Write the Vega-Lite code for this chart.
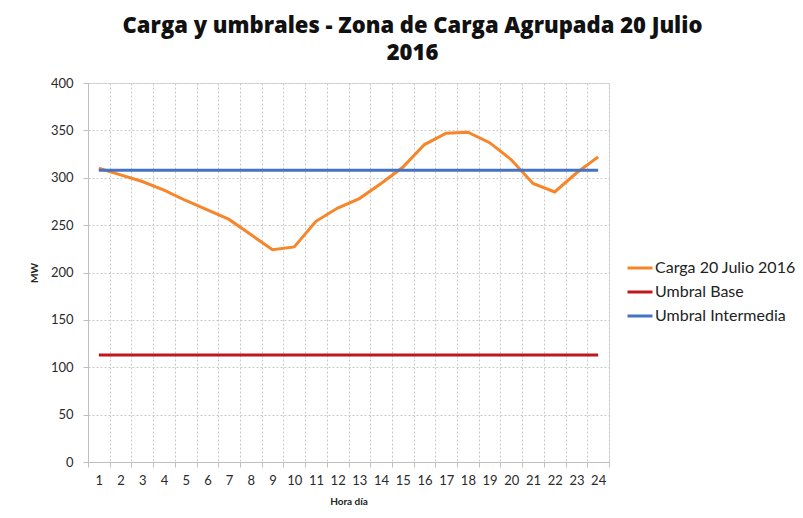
{
  "$schema": "https://vega.github.io/schema/vega-lite/v6.json",
  "autosize": {"type": "none"},
  "width": 521,
  "height": 379,
  "padding": {"left": 88, "top": 83, "right": 194, "bottom": 56},
  "background": "white",
  "title": {
    "text": ["Carga y umbrales - Zona de Carga Agrupada 20 Julio", "2016"],
    "font": "Open Sans", "fontSize": 22, "fontWeight": 800, "color": "#111",
    "anchor": "middle", "frame": "group", "dx": 64, "offset": 12, "lineHeight": 27
  },
  "data": {"values": [
    {"hora": 1, "serie": "Carga 20 Julio 2016", "MW": 310},
    {"hora": 2, "serie": "Carga 20 Julio 2016", "MW": 303},
    {"hora": 3, "serie": "Carga 20 Julio 2016", "MW": 296},
    {"hora": 4, "serie": "Carga 20 Julio 2016", "MW": 287},
    {"hora": 5, "serie": "Carga 20 Julio 2016", "MW": 276},
    {"hora": 6, "serie": "Carga 20 Julio 2016", "MW": 266},
    {"hora": 7, "serie": "Carga 20 Julio 2016", "MW": 256},
    {"hora": 8, "serie": "Carga 20 Julio 2016", "MW": 240},
    {"hora": 9, "serie": "Carga 20 Julio 2016", "MW": 224},
    {"hora": 10, "serie": "Carga 20 Julio 2016", "MW": 227},
    {"hora": 11, "serie": "Carga 20 Julio 2016", "MW": 254},
    {"hora": 12, "serie": "Carga 20 Julio 2016", "MW": 268},
    {"hora": 13, "serie": "Carga 20 Julio 2016", "MW": 278},
    {"hora": 14, "serie": "Carga 20 Julio 2016", "MW": 294},
    {"hora": 15, "serie": "Carga 20 Julio 2016", "MW": 311},
    {"hora": 16, "serie": "Carga 20 Julio 2016", "MW": 335},
    {"hora": 17, "serie": "Carga 20 Julio 2016", "MW": 347},
    {"hora": 18, "serie": "Carga 20 Julio 2016", "MW": 348},
    {"hora": 19, "serie": "Carga 20 Julio 2016", "MW": 337},
    {"hora": 20, "serie": "Carga 20 Julio 2016", "MW": 319},
    {"hora": 21, "serie": "Carga 20 Julio 2016", "MW": 294},
    {"hora": 22, "serie": "Carga 20 Julio 2016", "MW": 285},
    {"hora": 23, "serie": "Carga 20 Julio 2016", "MW": 305},
    {"hora": 24, "serie": "Carga 20 Julio 2016", "MW": 322},
    {"hora": 1, "serie": "Umbral Base", "MW": 113},
    {"hora": 2, "serie": "Umbral Base", "MW": 113},
    {"hora": 3, "serie": "Umbral Base", "MW": 113},
    {"hora": 4, "serie": "Umbral Base", "MW": 113},
    {"hora": 5, "serie": "Umbral Base", "MW": 113},
    {"hora": 6, "serie": "Umbral Base", "MW": 113},
    {"hora": 7, "serie": "Umbral Base", "MW": 113},
    {"hora": 8, "serie": "Umbral Base", "MW": 113},
    {"hora": 9, "serie": "Umbral Base", "MW": 113},
    {"hora": 10, "serie": "Umbral Base", "MW": 113},
    {"hora": 11, "serie": "Umbral Base", "MW": 113},
    {"hora": 12, "serie": "Umbral Base", "MW": 113},
    {"hora": 13, "serie": "Umbral Base", "MW": 113},
    {"hora": 14, "serie": "Umbral Base", "MW": 113},
    {"hora": 15, "serie": "Umbral Base", "MW": 113},
    {"hora": 16, "serie": "Umbral Base", "MW": 113},
    {"hora": 17, "serie": "Umbral Base", "MW": 113},
    {"hora": 18, "serie": "Umbral Base", "MW": 113},
    {"hora": 19, "serie": "Umbral Base", "MW": 113},
    {"hora": 20, "serie": "Umbral Base", "MW": 113},
    {"hora": 21, "serie": "Umbral Base", "MW": 113},
    {"hora": 22, "serie": "Umbral Base", "MW": 113},
    {"hora": 23, "serie": "Umbral Base", "MW": 113},
    {"hora": 24, "serie": "Umbral Base", "MW": 113},
    {"hora": 1, "serie": "Umbral Intermedia", "MW": 308},
    {"hora": 2, "serie": "Umbral Intermedia", "MW": 308},
    {"hora": 3, "serie": "Umbral Intermedia", "MW": 308},
    {"hora": 4, "serie": "Umbral Intermedia", "MW": 308},
    {"hora": 5, "serie": "Umbral Intermedia", "MW": 308},
    {"hora": 6, "serie": "Umbral Intermedia", "MW": 308},
    {"hora": 7, "serie": "Umbral Intermedia", "MW": 308},
    {"hora": 8, "serie": "Umbral Intermedia", "MW": 308},
    {"hora": 9, "serie": "Umbral Intermedia", "MW": 308},
    {"hora": 10, "serie": "Umbral Intermedia", "MW": 308},
    {"hora": 11, "serie": "Umbral Intermedia", "MW": 308},
    {"hora": 12, "serie": "Umbral Intermedia", "MW": 308},
    {"hora": 13, "serie": "Umbral Intermedia", "MW": 308},
    {"hora": 14, "serie": "Umbral Intermedia", "MW": 308},
    {"hora": 15, "serie": "Umbral Intermedia", "MW": 308},
    {"hora": 16, "serie": "Umbral Intermedia", "MW": 308},
    {"hora": 17, "serie": "Umbral Intermedia", "MW": 308},
    {"hora": 18, "serie": "Umbral Intermedia", "MW": 308},
    {"hora": 19, "serie": "Umbral Intermedia", "MW": 308},
    {"hora": 20, "serie": "Umbral Intermedia", "MW": 308},
    {"hora": 21, "serie": "Umbral Intermedia", "MW": 308},
    {"hora": 22, "serie": "Umbral Intermedia", "MW": 308},
    {"hora": 23, "serie": "Umbral Intermedia", "MW": 308},
    {"hora": 24, "serie": "Umbral Intermedia", "MW": 308}
  ]},
  "mark": {"type": "line", "strokeWidth": 3},
  "encoding": {
    "x": {
      "field": "hora", "type": "ordinal",
      "scale": {"type": "band", "paddingInner": 0, "paddingOuter": 0},
      "axis": {
        "title": "Hora día", "titleFont": "Lato", "titleFontSize": 10, "titleFontWeight": "bold",
        "titleColor": "#222", "titlePadding": 9,
        "labelAngle": 0, "labelFont": "Lato", "labelFontSize": 13, "labelColor": "#2a2a2a",
        "labelPadding": 7, "tickSize": 5, "tickColor": "#bfbfbf",
        "grid": true, "tickBand": "extent", "gridDash": [2, 2], "gridColor": "#c8c8c8",
        "domainColor": "#bfbfbf"
      }
    },
    "y": {
      "field": "MW", "type": "quantitative",
      "scale": {"domain": [0, 400], "nice": false},
      "axis": {
        "values": [0, 50, 100, 150, 200, 250, 300, 350, 400],
        "title": "MW", "titleFont": "Lato", "titleFontSize": 10, "titleFontWeight": "bold",
        "titleColor": "#222", "titlePadding": 11,
        "labelFont": "Lato", "labelFontSize": 13, "labelColor": "#2a2a2a", "labelPadding": 10,
        "tickSize": 5, "tickColor": "#bfbfbf",
        "grid": true, "gridDash": [2, 2], "gridColor": "#c8c8c8",
        "domainColor": "#bfbfbf"
      }
    },
    "color": {
      "field": "serie", "type": "nominal",
      "scale": {
        "domain": ["Carga 20 Julio 2016", "Umbral Base", "Umbral Intermedia"],
        "range": ["#F7852A", "#C0161C", "#4472C4"]
      },
      "legend": {
        "title": null, "orient": "none", "legendX": 538, "legendY": 171,
        "symbolType": "stroke", "symbolSize": 625, "symbolStrokeWidth": 3,
        "labelFont": "Lato", "labelFontSize": 16, "labelColor": "#222",
        "labelOffset": 1, "rowPadding": 2
      }
    }
  }
}
